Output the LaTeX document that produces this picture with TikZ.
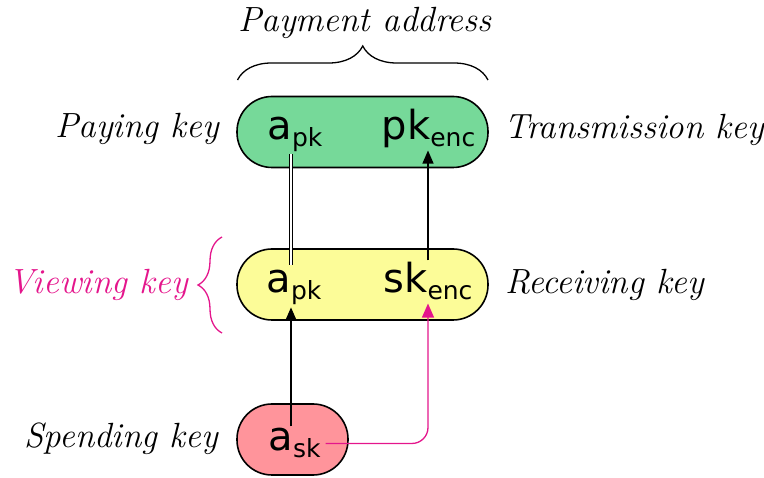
\documentclass[tikz,border=0pt]{standalone}
\usepackage{fontspec}
\newfontfamily\dejavu{DejaVu Sans}
\usetikzlibrary{decorations.pathreplacing,arrows.meta}
\definecolor{mag}{RGB}{228,22,140}
\definecolor{gfill}{RGB}{118,217,153}
\definecolor{yfill}{RGB}{252,252,152}
\definecolor{rfill}{RGB}{255,148,155}
\newcommand{\keytxt}[2]{{\dejavu\fontsize{40}{40}\selectfont #1\raisebox{-7pt}{\fontsize{25}{25}\selectfont #2}}}
\tikzset{
  keybox/.style={draw=black, line width=1.6pt, rounded corners=35pt, minimum height=71pt},
  keytext/.style={anchor=base, inner sep=2pt},
  lbl/.style={font=\fontsize{35}{35}\selectfont\itshape, inner sep=0pt},
  conn/.style={line width=1.2pt, -{Triangle[length=13pt,width=11pt]}},
  brc/.style={decorate, line width=1.3pt}
}
\begin{document}
\begin{tikzpicture}[x=1pt,y=-1pt]
\useasboundingbox (0,0) rectangle (764,478);
% boxes
\node[keybox, fill=gfill, minimum width=251pt] (green) at (362.5,132) {};
\node[keybox, fill=yfill, minimum width=251pt] (yellow) at (362.5,284.5) {};
\node[keybox, fill=rfill, minimum width=111pt] (red) at (292.5,439.5) {};
% key texts
\node[keytext] (apkG) at (295,140) {\keytxt{a}{pk}};
\node[keytext] (pkG) at (428.5,140) {\keytxt{pk}{enc}};
\node[keytext] (apkY) at (294,293) {\keytxt{a}{pk}};
\node[keytext] (skY) at (428,293) {\keytxt{sk}{enc}};
\node[keytext] (askR) at (294.5,451) {\keytxt{a}{sk}};
% connectors
\draw[line width=1.1pt, double distance=2.4pt] ([xshift=-4pt]apkG.south) -- ([xshift=-4pt,yshift=3pt]apkG.south |- apkY.north);
\draw[conn] (skY.north) -- (skY.north |- pkG.south);
\draw[conn] ([xshift=-3.5pt]askR.north) -- ([xshift=-3.5pt]askR.north |- apkY.south);
\draw[draw=mag, line width=1.3pt, rounded corners=16pt, -{Triangle[length=14pt,width=12pt]}] ([xshift=3pt]askR.east) -| ([yshift=-1pt]skY.south);
% labels
\node[lbl, anchor=base] (pay) at (365,32) {Payment address};
\node[lbl, anchor=base east] (paying) at (219,138) {Paying key};
\node[lbl, anchor=base west] (trans) at (504,139) {Transmission key};
\node[lbl, anchor=base east, text=mag] (view) at (188,294) {Viewing key};
\node[lbl, anchor=base west] (recv) at (505,294) {Receiving key};
\node[lbl, anchor=base east] (spend) at (218,448) {Spending key};
% braces
\draw[brc, decoration={brace, amplitude=34pt, raise=0pt}] (237.5,80) -- (488,80);
\draw[brc, draw=mag, decoration={brace, amplitude=24pt}] (222,333) -- (222,237);
\end{tikzpicture}
\end{document}
